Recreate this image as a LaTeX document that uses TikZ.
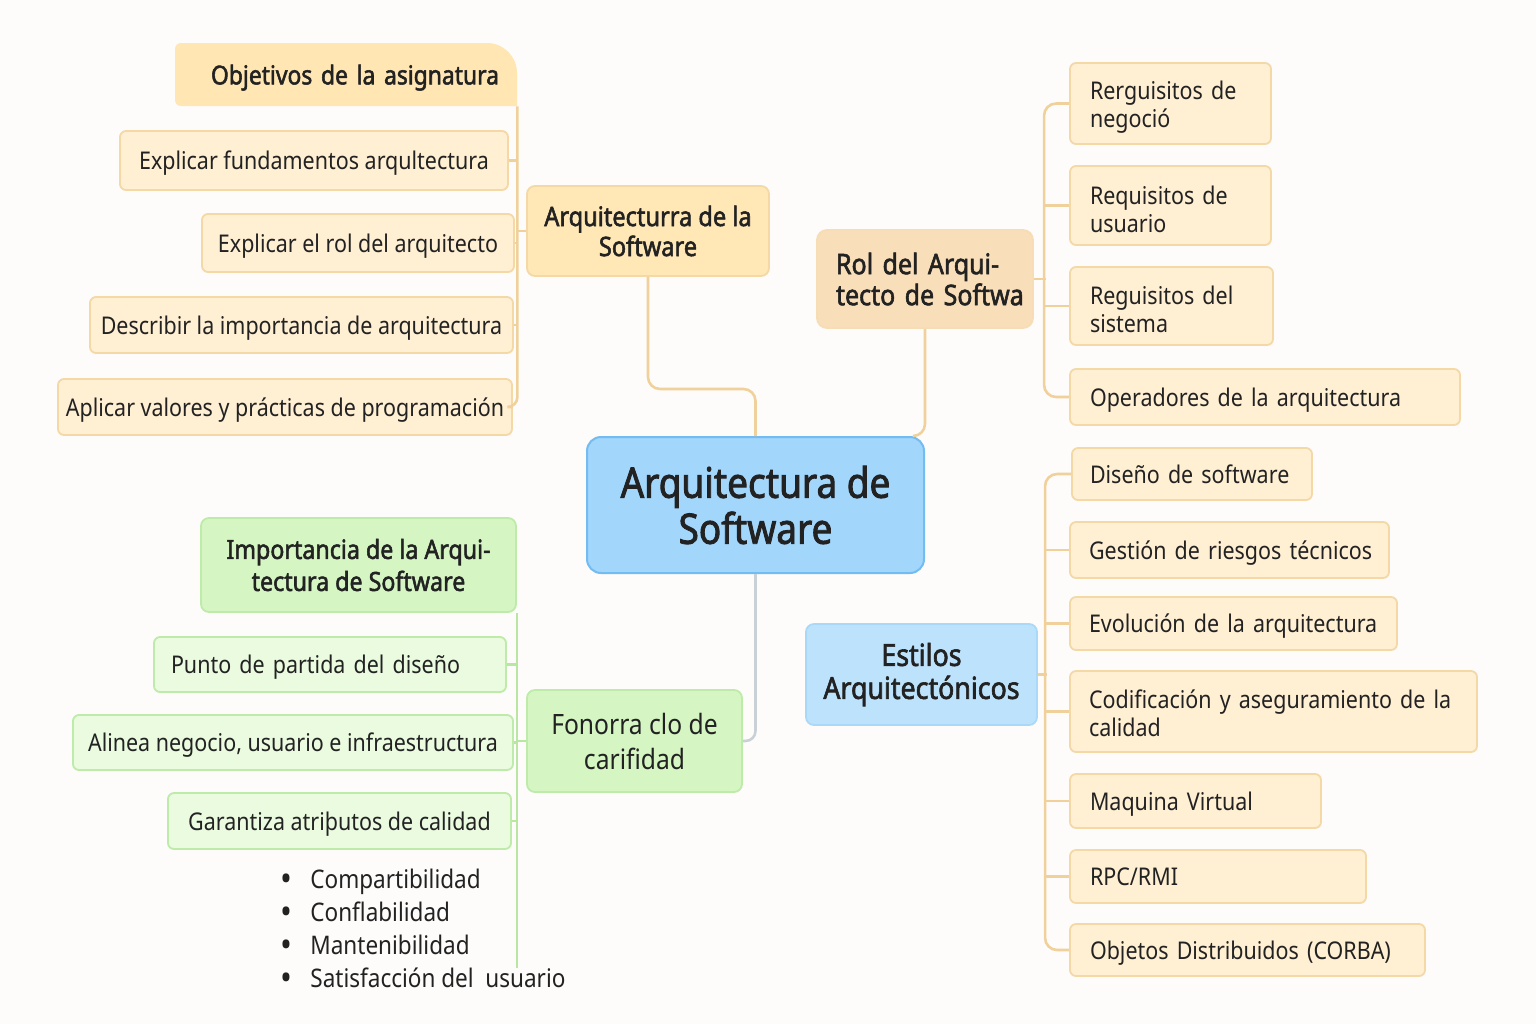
\documentclass[tikz,border=0pt]{standalone}
\usepackage{fontspec}
\setmainfont{Noto Sans}[FakeStretch=0.88, BoldFont={Noto Sans}, BoldFeatures={FakeBold=2}]
\usetikzlibrary{calc}
\definecolor{bg}{HTML}{FDFCFA}
\definecolor{txt}{HTML}{222222}
\definecolor{ofill}{HTML}{FFEFD3}
\definecolor{oborder}{HTML}{F4D8A6}
\definecolor{otitle}{HTML}{FFE7B6}
\definecolor{objfill}{HTML}{FFE6B3}
\definecolor{rolfill}{HTML}{F8DEB9}
\definecolor{oline}{HTML}{F1D19B}
\definecolor{cfill}{HTML}{A3D6FB}
\definecolor{cborder}{HTML}{72BCF2}
\definecolor{efill}{HTML}{BDE3FC}
\definecolor{eborder}{HTML}{AAD8F8}
\definecolor{gtitle}{HTML}{D5F6C3}
\definecolor{gfill}{HTML}{EAFBE0}
\definecolor{gborder}{HTML}{BEEBA9}
\definecolor{gline}{HTML}{B9E6A1}
\definecolor{grline}{HTML}{C9D1D6}
\tikzset{
  box/.style={draw, rounded corners=3pt, line width=0.9pt, inner ysep=0pt, text=txt,
    font=\fontsize{12.2}{14}\selectfont},
  obox/.style={box, draw=oborder, fill=ofill, text depth=0pt},
  oboxm/.style={box, draw=oborder, fill=ofill},
  gbox/.style={box, draw=gborder, fill=gfill, text depth=0pt},
  otbox/.style={box, draw=oborder, fill=otitle, rounded corners=4pt},
  gtbox/.style={box, draw=gborder, fill=gtitle, rounded corners=4pt},
  lefttext/.style={align=left, inner xsep=#1},
  oconn/.style={draw=oline, line width=1.3pt, rounded corners=5pt},
  gconn/.style={draw=gline, line width=1.3pt},
  grconn/.style={draw=grline, line width=1.3pt, rounded corners=5pt},
}
\newcommand\bigdot{\makebox[15pt][l]{\raisebox{-1.3pt}{\fontsize{18}{18}\selectfont •}}}
\newcommand\topstrut{\rule{0pt}{13pt}}
\begin{document}
\begin{tikzpicture}[x=0.5pt,y=-0.5pt]
\fill[bg] (0,0) rectangle (1536,1024);
\path[use as bounding box] (0,0) rectangle (1536,1024);

% ---------- left top group ----------
\fill[objfill] (175,100) -- (175,49) arc[start angle=180,end angle=90,radius=3pt]
  -- (487,43) arc[start angle=90,end angle=0,radius=15pt] -- (517,106)
  -- (181,106) arc[start angle=270,end angle=180,radius=3pt] -- cycle;
\node[text=txt, font=\fontsize{13}{15}\selectfont\bfseries, minimum width=171pt, minimum height=31.5pt,
  inner xsep=9pt, align=right, text width=153pt, text depth=0pt] (obj) at (346,74.5) {Objetivos de la asignatura};

\node[obox, minimum width=194pt, minimum height=29.5pt] (fund) at (314,160.5) {Explicar fundamentos arqultectura};
\node[obox, minimum width=156pt, minimum height=29pt] (erol) at (358,243) {Explicar el rol del arquitecto};
\node[obox, minimum width=211.5pt, minimum height=28pt] (desc) at (301.5,325) {Describir la importancia de arquitectura};
\node[obox, minimum width=227pt, minimum height=28pt] (apl) at (285,407) {Aplicar valores y prácticas de programación};

\node[otbox, minimum width=121pt, minimum height=45pt, align=center,
  font=\fontsize{13.4}{15}\selectfont\bfseries] (arq) at (648,231) {Arquitecturra de la\\Software};

% ---------- center ----------
\node[box, draw=cborder, fill=cfill, rounded corners=7pt, line width=1pt, minimum width=168.5pt, minimum height=68pt,
  align=center, font=\fontsize{21}{23}\selectfont\bfseries] (ctr) at (755.5,505) {Arquitectura de\\Software};

% ---------- right top group ----------
\node[box, draw=rolfill!85!oborder, fill=rolfill, rounded corners=5pt, minimum width=108pt, minimum height=49pt,
  lefttext=9.5pt, text width=89pt, font=\fontsize{14.2}{15.5}\selectfont\bfseries] (rolt) at (925,279)
  {\mbox{Rol del Arqui-}\\\mbox{tecto de Softwa}};

\node[oboxm, minimum width=100.5pt, minimum height=40.5pt, lefttext=10pt, text width=80.5pt] (rq1) at (1170.5,103.5)
  {\topstrut\mbox{Rerguisitos de}\\\mbox{negoció}};
\node[oboxm, minimum width=100.5pt, minimum height=39.5pt, lefttext=10pt, text width=80.5pt] (rq2) at (1170.5,205.5)
  {\topstrut\mbox{Requisitos de}\\\mbox{usuario}};
\node[oboxm, minimum width=101.5pt, minimum height=39pt, lefttext=10pt, text width=81.5pt] (rq3) at (1171.5,306)
  {\topstrut\mbox{Reguisitos del}\\\mbox{sistema}};
\node[obox, minimum width=195pt, minimum height=28pt, lefttext=10pt, text width=175pt] (rq4) at (1265,397)
  {\mbox{Operadores de la arquitectura}};

% ---------- right bottom group ----------
\node[box, draw=eborder, fill=efill, rounded corners=4pt, minimum width=115.5pt, minimum height=50.5pt, align=center,
  font=\fontsize{15.2}{16.5}\selectfont\bfseries] (est) at (921.5,674.5) {Estilos\\Arquitectónicos};

\node[obox, minimum width=120pt, minimum height=26pt, lefttext=9pt, text width=102pt] (es1) at (1192,474)
  {\mbox{Diseño de software}};
\node[obox, minimum width=159.5pt, minimum height=28pt, lefttext=9.5pt, text width=140.5pt] (es2) at (1229.5,550)
  {\mbox{Gestión de riesgos técnicos}};
\node[obox, minimum width=163.5pt, minimum height=26.5pt, lefttext=9.5pt, text width=144.5pt] (es3) at (1233.5,623.5)
  {\mbox{Evolución de la arquitectura}};
\node[oboxm, minimum width=203.5pt, minimum height=40.5pt, lefttext=9.5pt, text width=184.5pt] (es4) at (1273.5,711.5)
  {\rule{0pt}{11pt}\mbox{Codificación y aseguramiento de la}\\\mbox{calidad}};
\node[obox, minimum width=125.5pt, minimum height=27pt, lefttext=10pt, text width=105.5pt] (es5) at (1195.5,801)
  {\mbox{Maquina Virtual}};
\node[obox, minimum width=148pt, minimum height=26.5pt, lefttext=10pt, text width=128pt] (es6) at (1218,876.5)
  {\mbox{RPC/RMI}};
\node[obox, minimum width=177.5pt, minimum height=26pt, lefttext=10pt, text width=157.5pt] (es7) at (1247.5,950)
  {\mbox{Objetos Distribuidos (CORBA)}};

% ---------- green group ----------
\node[gtbox, minimum width=157.5pt, minimum height=47pt, align=center,
  font=\fontsize{13.2}{16}\selectfont\bfseries] (imp) at (358.5,565) {Importancia de la Arqui-\\tectura de Software};
\node[gbox, minimum width=176pt, minimum height=27.5pt, lefttext=8.5pt, text width=159pt] (g1) at (330,664.5)
  {\mbox{Punto de partida del diseño}};
\node[gbox, minimum width=220pt, minimum height=27.5pt] (g2) at (293,742.5) {Alinea negocio, usuario e infraestructura};
\node[gbox, minimum width=171.5pt, minimum height=28pt] (g3) at (339.5,821) {Garantiza atriþutos de calidad};
\node[gtbox, minimum width=107.5pt, minimum height=51pt, align=center,
  font=\fontsize{14}{17.5}\selectfont] (fon) at (634.5,741) {Fonorra clo de\\carifidad};

\node[anchor=north west, inner sep=0pt, align=left, text=txt, font=\fontsize{12.8}{16.5}\selectfont] (bl) at (280,869)
  {\bigdot Compartibilidad\\
   \bigdot Conflabilidad\\
   \bigdot Mantenibilidad\\
   \bigdot Satisfacción del\ \ usuario};
\coordinate (gend) at (515,968);

% ---------- connectors ----------
\draw[oconn] (obj.south east) |- (apl.east);
\draw[oconn] (fund.east) -- (fund.east -| obj.south east);
\draw[oconn] (erol.east) -- (erol.east -| obj.south east);
\draw[oconn] (desc.east) -- (desc.east -| obj.south east);
\draw[oconn] (arq.west) -- (arq.west -| obj.south east);
\draw[oconn, rounded corners=6pt] (arq.south) |- ([yshift=23.5pt]ctr.north) -- (ctr.north);
\draw[oconn, rounded corners=6pt] (rolt.south) -- (rolt.south |- ctr.north) -- ([xshift=-6pt]ctr.north east);

\draw[oconn, rounded corners=6pt] (rq1.west) -- ++(-12.5pt,0) |- (rq4.west);
\draw[oconn] (rq2.west) -- ++(-12.5pt,0);
\draw[oconn] (rq3.west) -- ++(-12.5pt,0);
\draw[oconn] (rolt.east) -- ++(6pt,0);

\draw[oconn, rounded corners=6pt] (es1.west) -- ++(-13pt,0) |- (es7.west);
\draw[oconn] (es2.west) -- ++(-12pt,0);
\draw[oconn] (es3.west) -- ++(-12pt,0);
\draw[oconn] (es4.west) -- ++(-12pt,0);
\draw[oconn] (es5.west) -- ++(-12pt,0);
\draw[oconn] (es6.west) -- ++(-12pt,0);
\draw[oconn] (est.east) -- ++(4.5pt,0);

\draw[gconn] (imp.south east) -- (imp.south east |- gend);
\draw[gconn] (g1.east) -- (g1.east -| imp.south east);
\draw[gconn] (g2.east) -- (g2.east -| imp.south east);
\draw[gconn] (g3.east) -- (g3.east -| imp.south east);
\draw[gconn] (fon.west) -- (fon.west -| imp.south east);
\draw[grconn] (ctr.south) |- (fon.east);
\end{tikzpicture}
\end{document}
